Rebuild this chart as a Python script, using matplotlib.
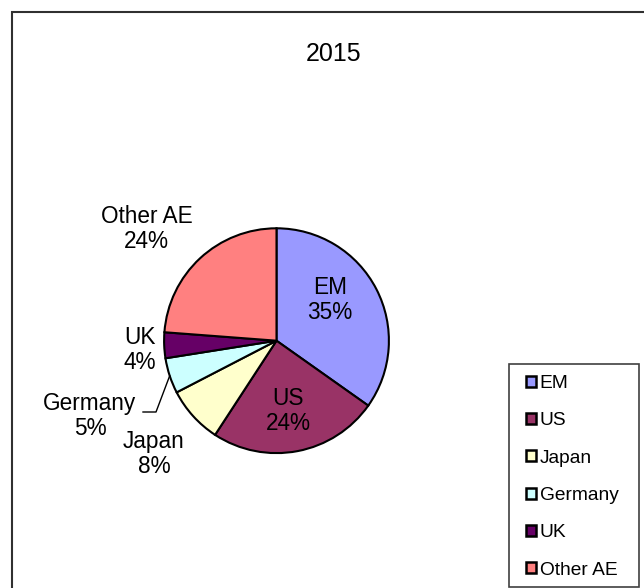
import numpy as np
import matplotlib
matplotlib.use("Agg")
import matplotlib.pyplot as plt
from matplotlib.patches import Patch, Rectangle

plt.rcParams["font.family"] = ["Liberation Sans", "DejaVu Sans"]

TITLE = "2015"
REGIONS = ["EM", "US", "Japan", "Germany", "UK", "Other AE"]
SHARES = [34.8, 24.4, 8.2, 5.1, 3.7, 23.8]
COLORS = ["#9999FF", "#993366", "#FFFFCC", "#CCFFFF", "#660066", "#FF8080"]

# layout in image pixels (y measured from the top)
WIDTH, HEIGHT = 644, 588
CENTER = (276.5, HEIGHT - 340.7)
RADIUS = 112.4
LABEL_POS = [
    (330, 300),
    (288, 411),
    (154, 454),
    (90, 416),
    (140, 350),
    (146.5, 229),
]


def main() -> None:
    fig = plt.figure(figsize=(WIDTH / 100, HEIGHT / 100), dpi=100)
    ax = fig.add_axes([0, 0, 1, 1])

    wedges, _ = ax.pie(
        SHARES,
        colors=COLORS,
        startangle=90,
        counterclock=False,
        center=CENTER,
        radius=RADIUS,
        wedgeprops=dict(edgecolor="black", linewidth=1.5),
    )
    ax.set_xlim(0, WIDTH)
    ax.set_ylim(0, HEIGHT)
    ax.set_aspect("equal")
    ax.axis("off")

    # outer chart-area border (runs off the right and bottom edges)
    ax.add_patch(
        Rectangle(
            (12, -20),
            WIDTH,
            HEIGHT - 12 + 20,
            fill=False,
            edgecolor="#303030",
            linewidth=1.5,
        )
    )

    ax.text(
        333.5,
        HEIGHT - 54,
        TITLE,
        ha="center",
        va="center",
        fontsize=18,
    )

    for name, share, (px, py) in zip(REGIONS, SHARES, LABEL_POS):
        ax.text(
            px,
            HEIGHT - py,
            f"{name}\n{share:.0f}%",
            ha="center",
            va="center",
            fontsize=16.3,
            linespacing=1.1,
        )

    # leader line for Germany
    germany = wedges[REGIONS.index("Germany")]
    mid = np.deg2rad((germany.theta1 + germany.theta2) / 2)
    edge_x = CENTER[0] + RADIUS * np.cos(mid)
    edge_y = CENTER[1] + RADIUS * np.sin(mid)
    ax.plot(
        [143, 156, edge_x],
        [HEIGHT - 412, HEIGHT - 412, edge_y],
        color="black",
        linewidth=1,
    )

    # legend box
    ax.add_patch(
        Rectangle(
            (509, HEIGHT - 587),
            130,
            223,
            fill=False,
            edgecolor="#404040",
            linewidth=1.2,
        )
    )
    handles = [
        Patch(facecolor=c, edgecolor="black", linewidth=1.8) for c in COLORS
    ]
    ax.legend(
        handles,
        REGIONS,
        loc="upper left",
        bbox_to_anchor=(526, HEIGHT - 375),
        bbox_transform=ax.transData,
        frameon=False,
        fontsize=13.8,
        borderpad=0,
        borderaxespad=0,
        handlelength=0.5,
        handleheight=0.5,
        handletextpad=0.22,
        labelspacing=1.06,
    )

    fig.savefig("out.png", dpi=100)
    plt.close(fig)


if __name__ == "__main__":
    main()
